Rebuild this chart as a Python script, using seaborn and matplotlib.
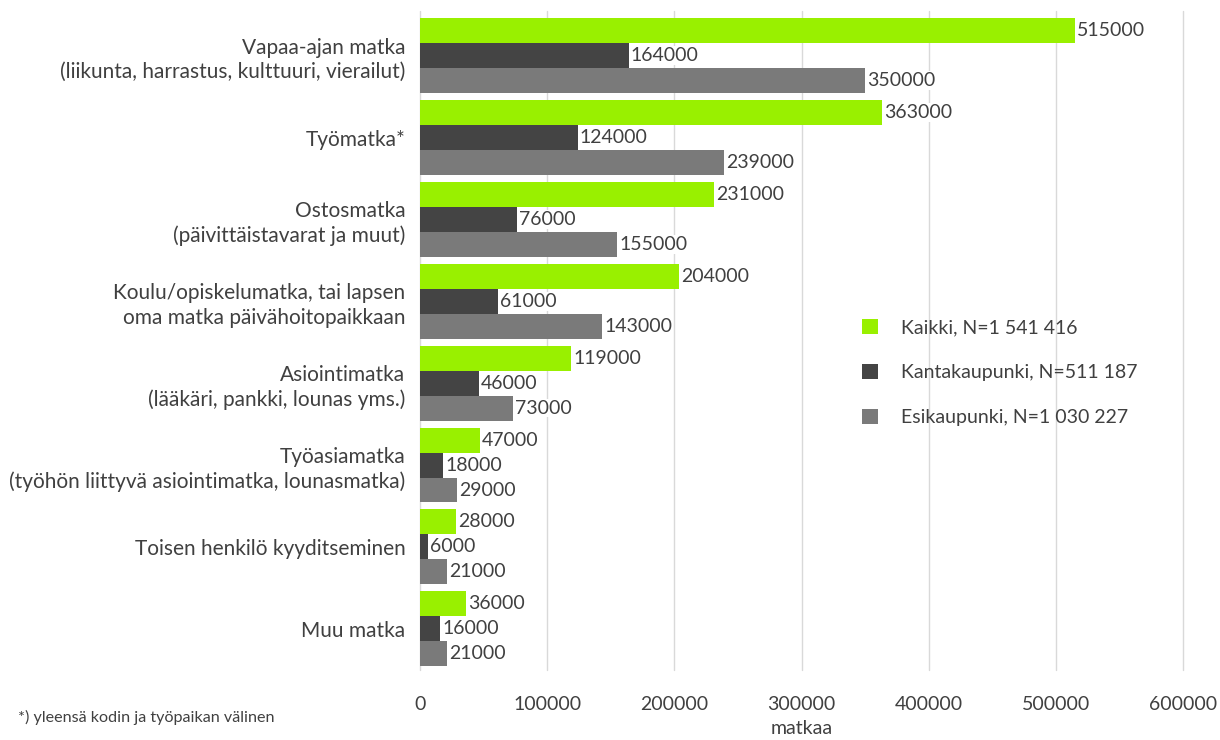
import matplotlib
matplotlib.use("Agg")
import matplotlib.pyplot as plt
import seaborn as sns
import pandas as pd
from matplotlib.patches import Patch

categories = [
    "Vapaa-ajan matka\n(liikunta, harrastus, kulttuuri, vierailut)",
    "Työmatka*",
    "Ostosmatka\n(päivittäistavarat ja muut)",
    "Koulu/opiskelumatka, tai lapsen\noma matka päivähoitopaikkaan",
    "Asiointimatka\n(lääkäri, pankki, lounas yms.)",
    "Työasiamatka\n(työhön liittyvä asiointimatka, lounasmatka)",
    "Toisen henkilö kyyditseminen",
    "Muu matka",
]
series_names = ["Kaikki, N=1 541 416", "Kantakaupunki, N=511 187", "Esikaupunki, N=1 030 227"]
kaikki = [515000, 363000, 231000, 204000, 119000, 47000, 28000, 36000]
kanta = [164000, 124000, 76000, 61000, 46000, 18000, 6000, 16000]
esi = [350000, 239000, 155000, 143000, 73000, 29000, 21000, 21000]
xticks = [0, 100000, 200000, 300000, 400000, 500000, 600000]
xlabel = "matkaa"
footnote = "*) yleensä kodin ja työpaikan välinen"

colors = ["#99F000", "#444444", "#7A7A7A"]
text_color = "#404040"
fs_num = 14
fs_cat = 15
fs_leg = 14

rows = []
for name, vals in zip(series_names, [kaikki, kanta, esi]):
    for c, v in zip(categories, vals):
        rows.append({"cat": c, "series": name, "val": v})
df = pd.DataFrame(rows)

sns.set_style("white")
plt.rcParams["font.family"] = ["Lato", "DejaVu Sans"]

fig = plt.figure(figsize=(12.2, 7.4), dpi=100)
ax = fig.add_axes([0.3443, 0.095, 0.6254, 0.885])

sns.barplot(data=df, y="cat", x="val", hue="series", order=categories,
            hue_order=series_names, palette=colors, orient="h",
            width=0.915, ax=ax, legend=False, saturation=1, zorder=2)

for container in ax.containers:
    for patch in container.patches:
        patch.set_edgecolor("none")
    ax.bar_label(container, labels=[f"{int(p.get_width())}" for p in container.patches],
                 padding=1.5, fontsize=fs_num, color=text_color,
                 bbox=dict(facecolor="white", edgecolor="none", pad=0.5))

ax.set_xlim(0, 600000)
ax.set_xticks(xticks)
ax.set_xticklabels([str(t) for t in xticks], fontsize=fs_num, color=text_color)
ax.tick_params(axis="x", length=0, pad=19)
ax.tick_params(axis="y", length=0, pad=10.5, labelsize=fs_cat, labelcolor=text_color)
for lbl in ax.get_yticklabels():
    lbl.set_multialignment("right")
    lbl.set_linespacing(1.27)

ax.set_ylabel("")
ax.set_xlabel(xlabel, fontsize=fs_num, color=text_color, labelpad=5)
ax.set_ylim(len(categories) - 0.5, -0.5)

for x in xticks:
    ax.axvline(x, color="#D9D9D9", lw=1, zorder=0, ymin=0, ymax=1.006, clip_on=False)
for s in ax.spines.values():
    s.set_visible(False)
ax.grid(False)

handles = [Patch(facecolor=c, edgecolor="none") for c in colors]
fig.legend(handles, series_names, loc="upper left", bbox_to_anchor=(0.692, 0.593),
           frameon=False, fontsize=fs_leg, labelcolor=text_color, handlelength=0.82,
           handleheight=0.82, handletextpad=1.2, labelspacing=1.42)

fig.text(0.015, 0.03, footnote, fontsize=11.6, color=text_color, ha="left", va="center")

fig.savefig("out.png", dpi=100, facecolor="white")
